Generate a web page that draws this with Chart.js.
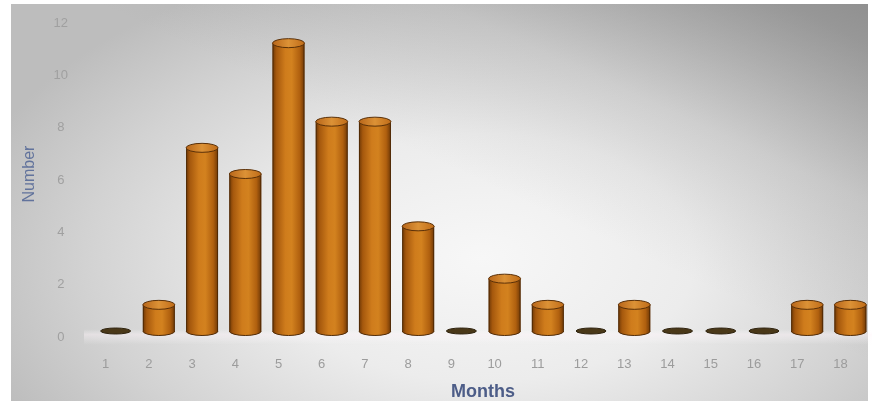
<!DOCTYPE html>
<html>
<head>
<meta charset="utf-8">
<script src="https://cdn.jsdelivr.net/npm/chart.js@4"></script>
<style>
  html, body { margin: 0; padding: 0; background: #ffffff; }
  #wrap { position: relative; width: 872px; height: 401px; }
  #bg {
    position: absolute; left: 11px; top: 4px; right: 4px; bottom: 0;
    background:
      linear-gradient(to bottom left, rgba(90,90,90,0.45) 0%, rgba(120,120,120,0.15) 25%, rgba(0,0,0,0) 45%),
      radial-gradient(ellipse 62% 78% at 55% 64%, #f7f7f7 0%, #ececec 40%, #d2d2d2 75%, #bdbdbd 100%);
  }
  canvas { position: absolute; left: 0; top: 0; }
</style>
</head>
<body>
<div id="wrap">
  <div id="bg"></div>
  <canvas id="chart" width="872" height="401"></canvas>
</div>
<script>
// Monthly counts
const months = ['1', '2', '3', '4', '5', '6', '7', '8', '9', '10', '11', '12', '13', '14', '15', '16', '17', '18'];
const counts = [0, 1, 7, 6, 11, 8, 8, 4, 0, 2, 1, 0, 1, 0, 0, 0, 1, 1];
const yMax = 12;
const yStep = 2;

const BAR_PCT = 0.74;
const CAP_RY = 4.5;

function bodyGradient(ctx, x, half) {
  const g = ctx.createLinearGradient(x - half, 0, x + half, 0);
  g.addColorStop(0, '#6e3806');
  g.addColorStop(0.12, '#a5580d');
  g.addColorStop(0.4, '#cf7c1c');
  g.addColorStop(0.6, '#d3821f');
  g.addColorStop(0.85, '#b0600f');
  g.addColorStop(1, '#6e3806');
  return g;
}

// Cylinder caps and the pale floor strip under the bars
const cylinders = {
  id: 'cylinders',
  beforeDatasetsDraw(chart) {
    const { ctx, chartArea } = chart;
    ctx.save();
    const g = ctx.createLinearGradient(0, chartArea.bottom - 2, 0, chartArea.bottom + 14);
    g.addColorStop(0, 'rgba(255,255,255,0)');
    g.addColorStop(0.35, 'rgba(255,245,250,0.45)');
    g.addColorStop(1, 'rgba(255,255,255,0)');
    ctx.fillStyle = g;
    ctx.fillRect(chartArea.left - 10, chartArea.bottom - 2, chartArea.right - chartArea.left + 10, 16);
    ctx.restore();
  },
  afterDatasetsDraw(chart) {
    const { ctx } = chart;
    const meta = chart.getDatasetMeta(0);
    meta.data.forEach((el, i) => {
      const half = el.width / 2;
      ctx.save();
      if (counts[i] === 0) {
        ctx.beginPath();
        ctx.ellipse(el.x, el.base, half - 1, 3, 0, 0, Math.PI * 2);
        ctx.fillStyle = '#4a3818';
        ctx.fill();
        ctx.lineWidth = 1;
        ctx.strokeStyle = '#2e220e';
        ctx.stroke();
        ctx.restore();
        return;
      }
      // rounded bottom
      ctx.beginPath();
      ctx.ellipse(el.x, el.base, half, CAP_RY, 0, 0, Math.PI);
      ctx.fillStyle = bodyGradient(ctx, el.x, half);
      ctx.fill();
      ctx.lineWidth = 1;
      ctx.strokeStyle = '#4f2a06';
      ctx.stroke();
      // side outlines
      ctx.beginPath();
      ctx.moveTo(el.x - half + 0.5, el.y);
      ctx.lineTo(el.x - half + 0.5, el.base);
      ctx.moveTo(el.x + half - 0.5, el.y);
      ctx.lineTo(el.x + half - 0.5, el.base);
      ctx.strokeStyle = 'rgba(70,36,4,0.8)';
      ctx.stroke();
      // top cap
      ctx.beginPath();
      ctx.ellipse(el.x, el.y, half, CAP_RY, 0, 0, Math.PI * 2);
      const tg = ctx.createLinearGradient(el.x - half, 0, el.x + half, 0);
      tg.addColorStop(0, '#b8661a');
      tg.addColorStop(0.5, '#dc9236');
      tg.addColorStop(1, '#c06c18');
      ctx.fillStyle = tg;
      ctx.fill();
      ctx.strokeStyle = '#5a3008';
      ctx.stroke();
      ctx.restore();
    });
  }
};

new Chart(document.getElementById('chart'), {
  type: 'bar',
  data: {
    labels: months,
    datasets: [{
      data: counts,
      barPercentage: BAR_PCT,
      categoryPercentage: 1,
      borderWidth: 0,
      backgroundColor(c) {
        const chart = c.chart;
        if (!chart.chartArea || !chart.scales.x) return '#c8731a';
        const xs = chart.scales.x;
        const x = xs.getPixelForValue(c.dataIndex);
        const half = (xs.width / months.length) * BAR_PCT / 2;
        return bodyGradient(chart.ctx, x, half);
      }
    }]
  },
  options: {
    responsive: false,
    animation: false,
    events: [],
    layout: { padding: { left: 11, right: 0, top: 17, bottom: 0 } },
    plugins: { legend: { display: false }, tooltip: { enabled: false } },
    scales: {
      x: {
        offset: true,
        grid: { display: false, drawTicks: false },
        border: { display: false },
        ticks: {
          padding: 26,
          labelOffset: -10,
          maxRotation: 0,
          color: '#9c9c9c',
          font: { family: 'Liberation Sans', size: 13 }
        },
        title: {
          display: true,
          text: 'Months',
          color: '#4d5d88',
          padding: { top: 0, bottom: 0 },
          font: { family: 'Liberation Sans', size: 18, weight: 'bold', lineHeight: 1 }
        },
        afterFit(scale) {
          scale.height = 70;
          scale.paddingLeft = 0;
          scale.paddingRight = 0;
        }
      },
      y: {
        min: 0,
        max: yMax,
        grid: { display: false, drawTicks: false },
        border: { display: false },
        ticks: {
          stepSize: yStep,
          padding: 26,
          labelOffset: 6,
          crossAlign: 'center',
          color: '#a0a0a0',
          font: { family: 'Liberation Sans', size: 13 }
        },
        title: {
          display: true,
          text: 'Number',
          color: '#62739c',
          padding: { top: 9, bottom: 0 },
          font: { family: 'Liberation Sans', size: 16 }
        },
        afterFit(scale) {
          scale.width = 83;
          scale.paddingTop = 0;
          scale.paddingBottom = 0;
        }
      }
    }
  },
  plugins: [cylinders]
});
</script>
</body>
</html>
